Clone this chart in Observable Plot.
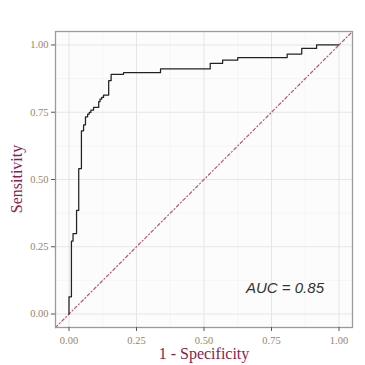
<!DOCTYPE html>
<html>
<head>
<meta charset="utf-8">
<script src="https://cdn.jsdelivr.net/npm/d3@7"></script>
<script src="https://cdn.jsdelivr.net/npm/@observablehq/plot@0.6"></script>
<style>
  html, body { margin: 0; padding: 0; background: #fff; }
  #chart { width: 365px; height: 365px; }
  #chart svg g[aria-label$="tick label"] text { font-family: 'Liberation Serif', 'Times New Roman', serif; }
</style>
</head>
<body>
<div id="chart"></div>
<script>
// ROC curve corner points (1 - specificity, sensitivity)
const fpr = [0, 0, 0.009, 0.015, 0.028, 0.036, 0.046, 0.054, 0.061, 0.069, 0.075, 0.081, 0.091, 0.110, 0.115, 0.121, 0.128, 0.147, 0.156, 0.202, 0.339, 0.523, 0.569, 0.625, 0.808, 0.862, 0.917, 1.0];
const tpr = [0, 0.064, 0.271, 0.299, 0.385, 0.540, 0.681, 0.703, 0.733, 0.743, 0.749, 0.758, 0.768, 0.789, 0.799, 0.805, 0.814, 0.867, 0.891, 0.897, 0.911, 0.932, 0.944, 0.953, 0.966, 0.987, 1.0, 1.0];
const majorTicks = [0, 0.25, 0.5, 0.75, 1];
const minorTicks = [0.125, 0.375, 0.625, 0.875];
const domain = [-0.05, 1.05];
const diagonal = [-0.05, 1.05];
const aucLabel = "AUC = 0.85";
const aucPos = {x: 0.8, y: 0.095};
const xTitle = "1 - Specificity";
const yTitle = "Sensitivity";

const roc = fpr.map((f, i) => ({f, t: tpr[i]}));
const diag = diagonal.map(v => ({v}));

const serif = "'Liberation Serif', 'Times New Roman', serif";
const tickColor = "#9A8466";
const titleColor = "#8B1C4E";

const plot = Plot.plot({
  width: 365,
  height: 365,
  marginLeft: 55,
  marginRight: 13,
  marginTop: 31,
  marginBottom: 38,
  style: {fontFamily: serif, background: "#fff"},
  x: {domain, ticks: majorTicks, tickFormat: d3.format(".2f"), label: null},
  y: {domain, ticks: majorTicks, tickFormat: d3.format(".2f"), label: null},
  marks: [
    Plot.frame({fill: "#FCFCFC", stroke: null}),
    Plot.gridX(minorTicks, {stroke: "#F2F2F2", strokeOpacity: 1, strokeWidth: 0.6}),
    Plot.gridY(minorTicks, {stroke: "#F2F2F2", strokeOpacity: 1, strokeWidth: 0.6}),
    Plot.gridX(majorTicks, {stroke: "#E6E6E6", strokeOpacity: 1, strokeWidth: 1.1}),
    Plot.gridY(majorTicks, {stroke: "#E6E6E6", strokeOpacity: 1, strokeWidth: 1.1}),
    Plot.line(diag, {x: "v", y: "v", stroke: "#A8384F", strokeWidth: 1.2, strokeOpacity: 0.85, strokeDasharray: "3,2.5,1,2.5"}),
    Plot.line(roc, {x: "f", y: "t", curve: "step-after", stroke: "#222", strokeWidth: 1.25}),
    Plot.text([aucPos], {x: "x", y: "y", text: () => aucLabel, fontSize: 15, fontStyle: "italic", fontFamily: "'Liberation Sans', Arial, sans-serif", fill: "#333", textAnchor: "middle"}),
    Plot.frame({stroke: "#9a9a9a", strokeWidth: 1.3}),
    Plot.axisX({ticks: majorTicks, tickFormat: d3.format(".2f"), tickSize: 4, tickPadding: 5, stroke: "#555", color: tickColor, fontSize: 10.5, label: null}),
    Plot.axisY({ticks: majorTicks, tickFormat: d3.format(".2f"), tickSize: 4, tickPadding: 3, stroke: "#555", color: tickColor, fontSize: 10.5, label: null})
  ]
});

const svg = d3.select(plot);
svg.selectAll('g[aria-label$="tick label"] text').attr("font-family", serif);
svg.append("text")
  .attr("x", 204).attr("y", 359)
  .attr("text-anchor", "middle")
  .attr("fill", titleColor)
  .style("font-family", serif).style("font-size", "16px")
  .text(xTitle);
svg.append("text")
  .attr("transform", "translate(22,179) rotate(-90)")
  .attr("text-anchor", "middle")
  .attr("fill", titleColor)
  .style("font-family", serif).style("font-size", "16px")
  .text(yTitle);

document.getElementById("chart").appendChild(plot);
</script>
</body>
</html>
